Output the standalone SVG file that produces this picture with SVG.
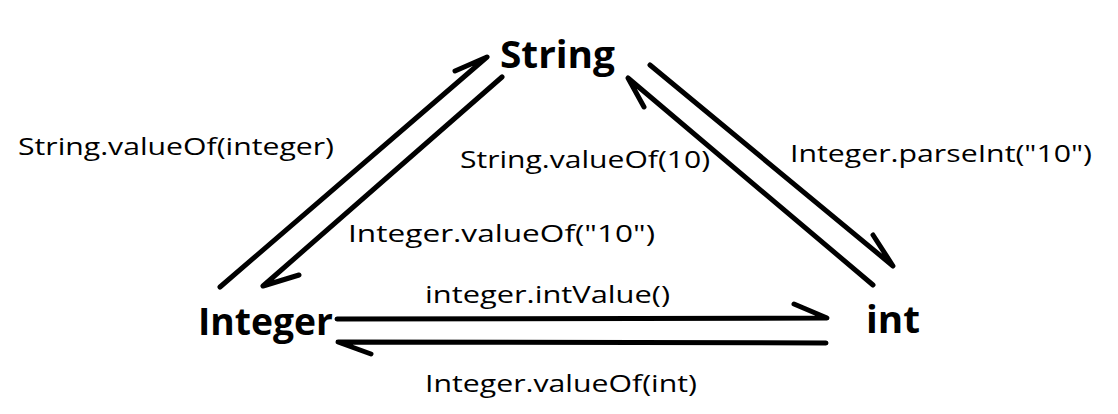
<svg xmlns="http://www.w3.org/2000/svg" width="1118" height="414" viewBox="0 0 1118 414">
<style>
.node{font-family:"Open Sans","Noto Sans","DejaVu Sans",sans-serif;font-weight:bold;font-size:38px;fill:#000}
.lbl{font-family:"Open Sans","Noto Sans","DejaVu Sans",sans-serif;font-size:24px;fill:#000}
.ln{stroke:#000;stroke-width:5;stroke-linecap:round;stroke-linejoin:round;fill:none}
</style>
<rect width="1118" height="414" fill="#fff"/>
<g id="node-string"><text class="node" x="500" y="68" textLength="115" lengthAdjust="spacingAndGlyphs">String</text></g>
<g id="node-integer"><text class="node" x="198" y="335" textLength="135" lengthAdjust="spacingAndGlyphs">Integer</text></g>
<g id="node-int"><text class="node" x="866" y="333" textLength="54" lengthAdjust="spacingAndGlyphs">int</text></g>
<g id="connectors">
<path class="ln" d="M220 287 L487 57 L455 71"/>
<path class="ln" d="M502 77 L263 286 L299 275"/>
<path class="ln" d="M873 285 L628 78 L644 107"/>
<path class="ln" d="M650 65 L893 266 L873 235"/>
<path class="ln" d="M337 319 L827 318 L794 304"/>
<path class="ln" d="M826 343 L338 342 L371 354"/>
</g>
<g id="labels">
<text class="lbl" x="18" y="155" textLength="316" lengthAdjust="spacingAndGlyphs">String.valueOf(integer)</text>
<text class="lbl" x="460" y="168" textLength="250" lengthAdjust="spacingAndGlyphs">String.valueOf(10)</text>
<text class="lbl" x="790" y="162" textLength="302" lengthAdjust="spacingAndGlyphs">Integer.parseInt("10")</text>
<text class="lbl" x="348" y="242" textLength="307" lengthAdjust="spacingAndGlyphs">Integer.valueOf("10")</text>
<text class="lbl" x="425" y="303" textLength="245" lengthAdjust="spacingAndGlyphs">integer.intValue()</text>
<text class="lbl" x="425" y="392" textLength="272" lengthAdjust="spacingAndGlyphs">Integer.valueOf(int)</text>
</g>
</svg>
